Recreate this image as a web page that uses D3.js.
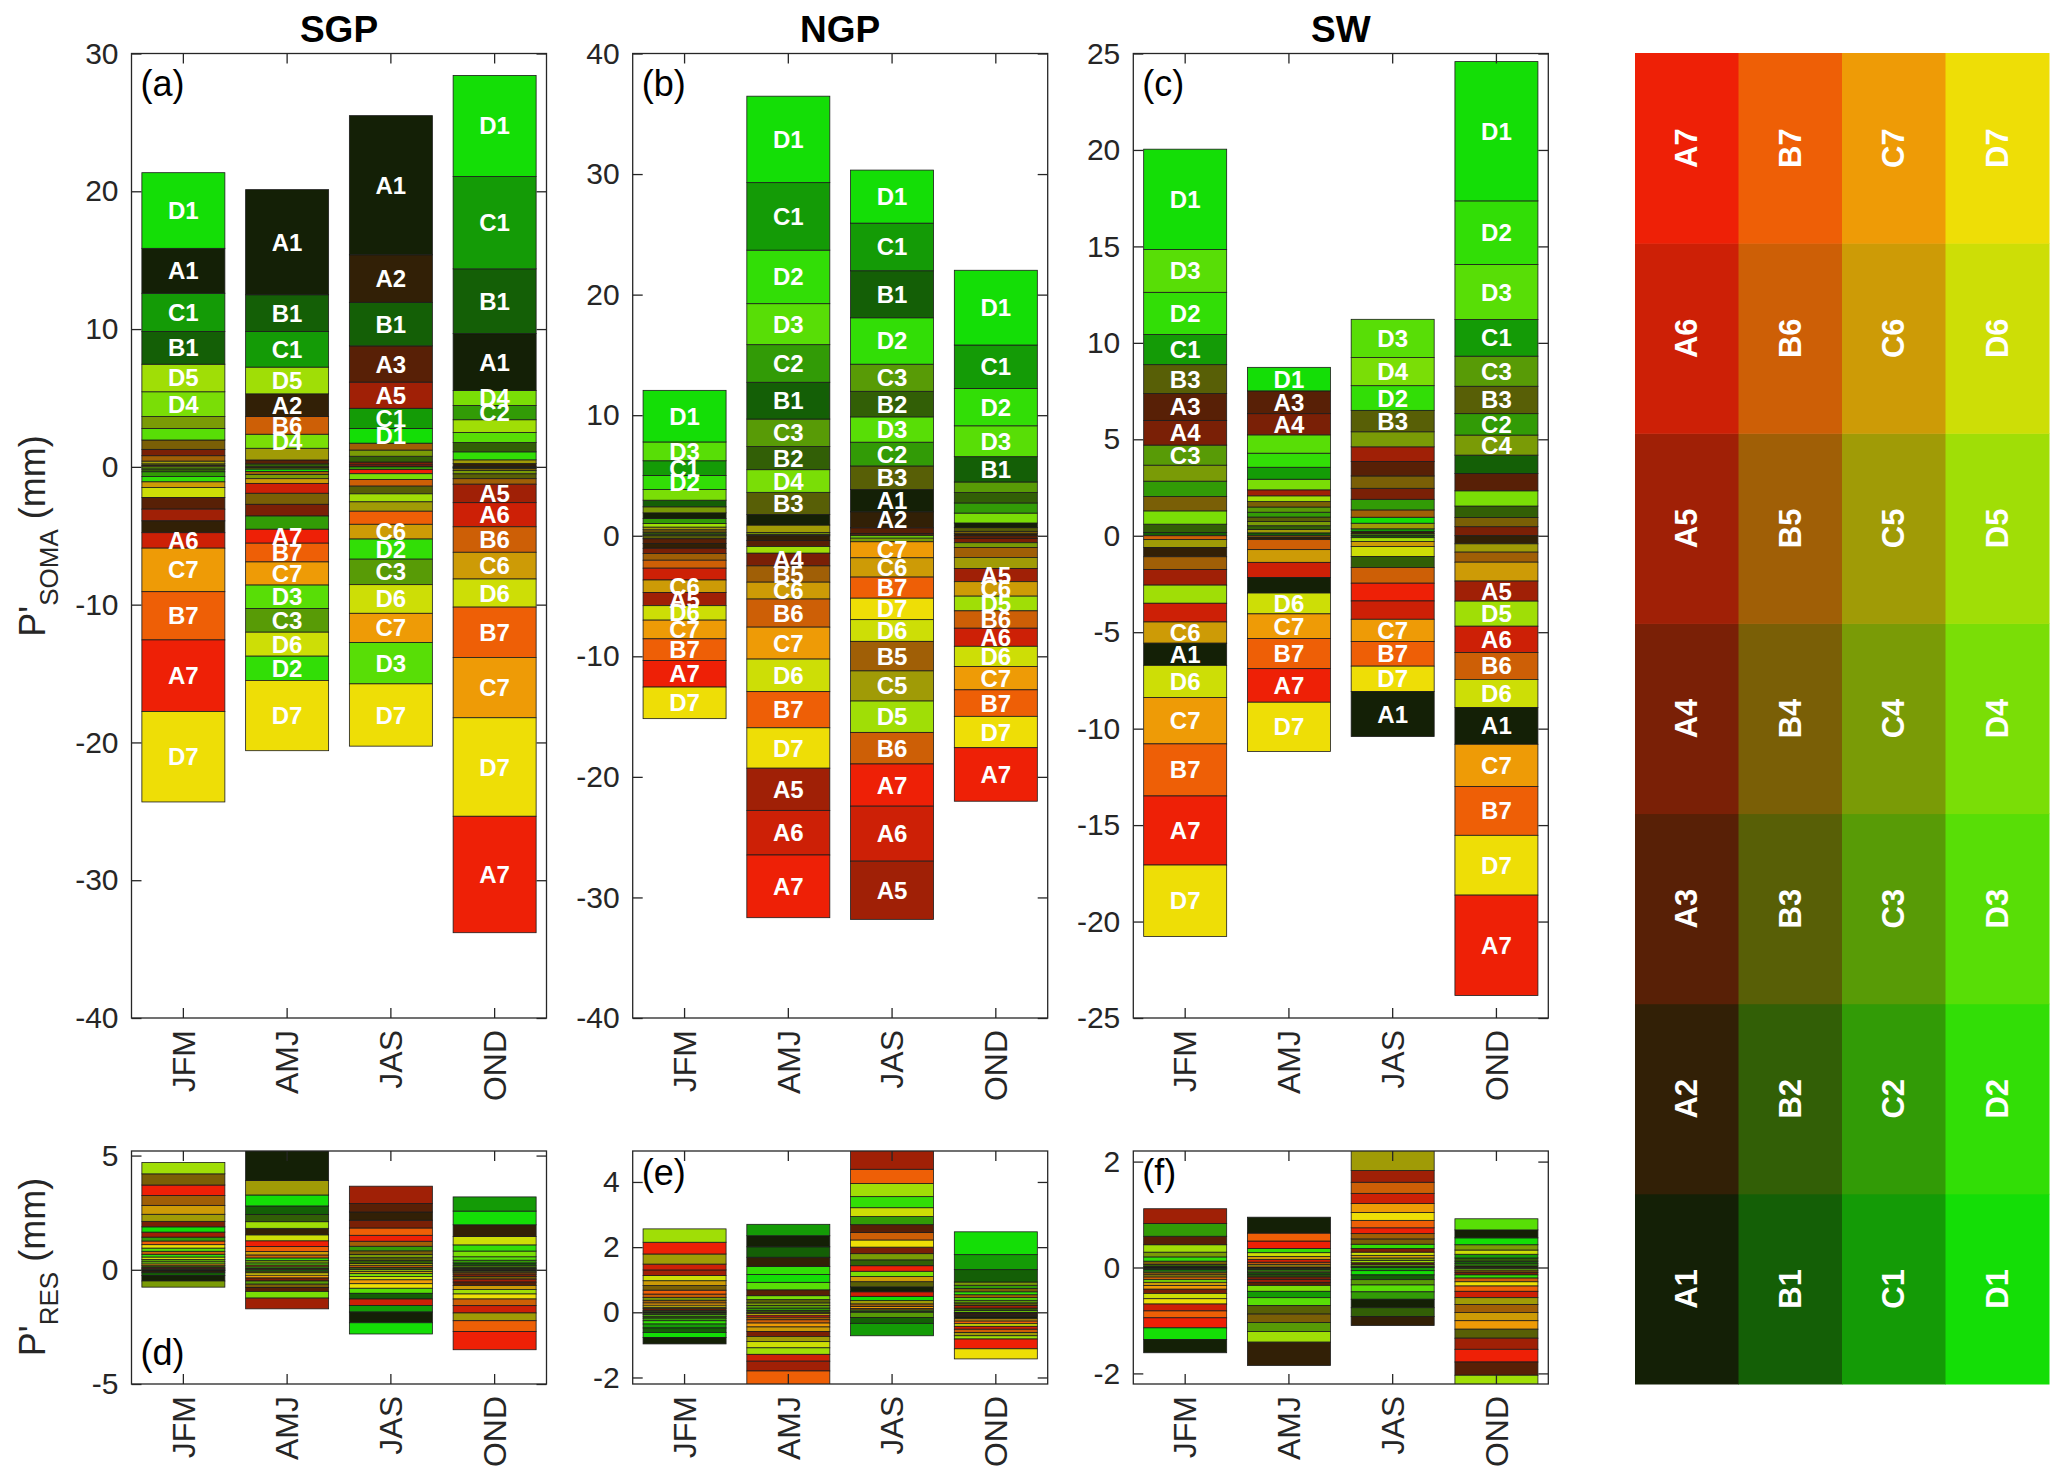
<!DOCTYPE html>
<html>
<head>
<meta charset="utf-8">
<script src="https://cdn.jsdelivr.net/npm/d3@7"></script>
<style>
  body { margin: 0; background: #fff; }
  svg text { font-family: "Liberation Sans", Arial, Helvetica, sans-serif; }
</style>
</head>
<body>
<div id="chart"></div>
<script>
// ---- data ----
const seasons = ["JFM", "AMJ", "JAS", "OND"];
const groups = ["A", "B", "C", "D"];
const levels = [1, 2, 3, 4, 5, 6, 7];
const categories = [
  "A1", "A2", "A3", "A4", "A5", "A6", "A7",
  "B1", "B2", "B3", "B4", "B5", "B6", "B7",
  "C1", "C2", "C3", "C4", "C5", "C6", "C7",
  "D1", "D2", "D3", "D4", "D5", "D6", "D7"
];

// P'SOMA (mm): one row per season, columns A1..A7 | B1..B7 | C1..C7 | D1..D7
const sgpSoma = [
  [3.26, -0.86, -0.84, 0.46, -0.85, -1.12, -5.2,   2.38, -0.2, 0.12, 0.68, 0.39, 0.1, -3.5,     2.77, -0.34, -0.16, 0.86, 0.2, -0.41, -3.16,   5.49, -0.39, 0.84, 1.8, 2.0, -0.73, -6.56],
  [7.63, 1.65, 0.28, -0.85, -0.05, -0.72, -1.01,   2.67, 0.22, -0.12, -0.8, -0.22, 1.28, -1.36,  2.58, -0.96, -1.72, -0.3, 0.85, -0.34, -1.68,  -0.17, -1.76, -1.7, 1.02, 1.94, -1.74, -5.1],
  [10.1, 3.45, 2.63, 0.2, 1.9, 0.1, -0.3,          3.16, 0.42, -0.56, 0.05, 0.5, -0.48, -0.95,   1.46, -0.2, -1.85, 0.45, -0.68, -1.07, -2.12,  1.07, -1.46, -3.0, -0.42, -0.58, -2.08, -4.52],
  [4.13, 0.24, -0.03, -0.02, -1.34, -1.75, -8.45,  4.7, 0.68, -0.35, -0.15, -0.4, -1.85, -3.65,  6.7, 1.04, -0.06, -0.25, 0.27, -1.94, -4.38,   7.34, 0.58, 0.73, 1.08, 0.92, -2.04, -7.15]
];
const ngpSoma = [
  [0.47, -0.4, -0.39, -0.44, -1.1, -0.98, -2.2,    0.55, 0.17, -0.25, 0.2, -0.55, -0.66, -1.8,   1.22, 0.41, 0.13, 0.5, 0.22, -1.03, -1.55,     4.28, 1.17, 1.56, 0.88, 0.3, -1.2, -2.62],
  [0.88, -0.4, -0.5, -1.05, -3.5, -3.7, -5.2,      3.05, 1.92, 1.83, 0.12, -1.35, -2.33, -3.0,   5.6, 3.12, 2.28, 0.15, 0.62, -1.4, -2.65,      7.17, 4.44, 3.4, 1.88, -0.55, -2.7, -3.35],
  [1.85, 1.33, 0.47, 0.12, -4.83, -4.56, -3.5,     3.9, 2.12, 1.95, 0.07, -2.45, -2.62, -1.75,   3.95, 1.97, 2.25, -0.3, -2.5, -1.6, -1.33,     4.4, 3.85, 2.1, -0.2, -2.6, -1.8, -1.78],
  [0.39, 0.17, -0.22, -0.36, -1.1, -1.5, -4.44,    2.1, 0.86, 0.3, 0.2, -0.83, -1.44, -2.2,      3.6, 0.84, 0.88, -0.39, -0.91, -1.2, -1.94,    6.2, 3.1, 2.56, 0.82, -1.22, -1.67, -2.6]
];
const swSoma = [
  [-1.15, -0.48, 1.39, 1.28, -0.81, -0.97, -3.58,  0.17, 0.43, 1.5, 0.74, -0.66, -0.2, -2.7,     1.56, 0.8, 1.04, 0.83, -0.41, -1.1, -2.4,      5.2, 2.19, 2.22, 0.69, -0.94, -1.67, -3.7],
  [-0.81, -0.12, 1.18, 1.1, 0.31, -0.78, -1.74,    0.15, 0.2, 0.23, 0.28, -0.08, -0.52, -1.56,   0.62, 0.25, 0.27, 0.22, 0.17, -0.66, -1.28,    1.22, 0.73, 0.95, 0.55, 0.3, -1.08, -2.55],
  [-2.33, 0.12, 0.75, 0.57, 0.76, -0.95, -0.92,    -0.1, -0.57, 1.11, 0.64, 0.38, -0.81, -1.28,  0.14, 0.55, 0.1, 0.78, 0.29, -0.26, -1.15,     0.31, 1.28, 1.98, 1.46, -0.2, -0.52, -1.32],
  [-1.9, -0.42, 0.9, 0.47, -1.04, -1.36, -5.2,     0.95, 0.59, 1.42, 0.48, -0.52, -1.4, -2.53,   1.9, 1.11, 1.56, 1.04, -0.43, -0.98, -2.19,    7.22, 3.3, 2.85, 0.79, -1.3, -1.46, -3.1]
];

// P'RES (mm), same layout
const sgpRes = [
  [-0.24, -0.08, -0.03, 0.24, 0.22, 0.06, 0.46,    -0.12, 0.07, 0.05, 0.49, 0.43, 0.13, 0.16,    -0.02, 0.17, 0.1, -0.27, 0.31, 0.39, 0.08,     0.23, 0.12, 0.14, 0.09, 0.5, 0.11, 0.15],
  [1.5, 0.285, -0.17, -0.13, -0.47, 0.06, 0.25,    0.37, 0.32, -0.08, -0.15, 0.08, 0.13, 0.22,   -0.06, 0.07, -0.14, 0.1, 0.63, 0.15, -0.12,    0.48, 0.12, 0.09, -0.29, 0.29, 0.26, -0.1],
  [-0.47, 0.36, 0.37, 0.34, 0.76, -0.28, 0.26,     -0.25, 0.12, 0.13, 0.16, 0.22, 0.08, 0.32,    -0.29, 0.2, 0.06, 0.14, 0.1, -0.1, -0.17,      -0.49, 0.04, -0.22, -0.12, -0.07, -0.15, -0.2],
  [0.05, 0.51, -0.15, -0.1, -0.13, -0.32, -0.8,    0.1, 0.07, -0.04, -0.12, -0.08, -0.29, -0.47, 0.62, 0.12, 0.08, -0.05, -0.34, -0.17, -0.02,  0.6, 0.27, 0.15, 0.25, -0.2, 0.37, -0.22]
];
const ngpRes = [
  [-0.2, -0.03, 0.02, 0.05, 0.17, 0.18, 0.36,      -0.14, -0.06, 0.05, 0.14, 0.08, 0.1, 0.12,    -0.12, -0.08, -0.04, 0.09, 0.31, 0.15, 0.07,   -0.15, -0.1, -0.05, 0.04, 0.41, 0.16, 0.06],
  [0.34, 0.28, 0.18, -0.15, -0.3, -0.21, -0.06,    0.32, 0.06, 0.1, -0.04, -0.08, -0.1, -0.6,    0.35, 0.07, 0.08, 0.08, -0.16, -0.14, -0.12,   0.24, 0.25, 0.23, 0.12, -0.2, -0.19, -0.05],
  [0.15, 0.03, 0.24, 0.2, 0.65, 0.14, 0.17,        -0.18, 0.18, 0.16, 0.05, 0.08, 0.23, 0.44,    -0.38, 0.25, -0.16, 0.19, 0.1, 0.16, 0.06,     0.13, 0.34, 0.04, 0.16, 0.4, 0.27, 0.22],
  [-0.06, -0.05, -0.04, -0.03, 0.08, -0.09, -0.3,  0.38, 0.07, 0.08, 0.1, 0.09, -0.1, -0.08,     0.46, 0.1, 0.08, 0.1, -0.1, -0.07, -0.02,      0.7, 0.09, 0.08, 0.06, -0.1, -0.08, -0.31]
];
const swRes = [
  [-0.25, 0.02, 0.16, -0.08, 0.28, -0.13, -0.19,   -0.01, 0.04, -0.01, 0.06, -0.04, -0.05, -0.13, -0.03, 0.24, -0.02, 0.09, -0.04, -0.06, -0.07, -0.22, 0.08, -0.03, -0.05, 0.14, -0.1, -0.1],
  [0.3, -0.44, -0.06, -0.05, -0.05, 0.05, 0.14,    -0.04, -0.04, -0.16, -0.16, -0.01, 0.04, 0.15, -0.12, -0.03, -0.17, -0.03, -0.02, 0.06, 0.03, -0.01, 0.08, -0.15, -0.11, -0.2, 0.07, 0.03],
  [-0.16, -0.17, 0.04, 0.07, 0.22, 0.19, 0.11,     -0.09, -0.165, 0.02, 0.1, 0.1, 0.21, 0.14,    -0.06, -0.14, -0.1, 0.05, 0.4, 0.05, 0.17,     -0.08, 0.08, -0.13, 0.03, 0.04, 0.06, 0.15],
  [0.15, 0.03, -0.25, -0.05, -0.21, -0.12, -0.24,  0.05, 0.06, -0.17, -0.04, -0.15, -0.07, -0.1, 0.07, 0.04, -0.02, 0.1, -0.13, -0.155, -0.16, 0.13, -0.06, 0.21, -0.03, -0.32, 0.08, -0.08]
];

// class colours: red channel follows the level (1..7), green follows the group (A..D)
const levelRed = [20, 50, 88, 122, 160, 205, 238];
const groupGreen = [32, 95, 155, 222];

function classColor(name) {
  const g = groups.indexOf(name[0]);
  const l = +name.slice(1) - 1;
  return d3.rgb(levelRed[l], groupGreen[g], 6).formatHex();
}

const svg = d3.select("#chart").append("svg")
  .attr("width", 2067)
  .attr("height", 1479);

svg.append("rect").attr("width", 2067).attr("height", 1479).attr("fill", "#fff");

class StackedPanel {
  /**
   * One stacked-bar axes: positives stacked up from 0, negatives down,
   * smallest contributions closest to zero.
   */
  constructor(_config, _data) {
    this.config = {
      id: _config.id,
      left: _config.left,
      top: _config.top,
      width: _config.width || 415,
      height: _config.height,
      yDomain: _config.yDomain,
      yTicks: _config.yTicks,
      title: _config.title,
      panelLabel: _config.panelLabel,
      labelAtBottom: _config.labelAtBottom || false,
      labelBaseline: _config.labelBaseline,
      showNames: _config.showNames || false
    };
    this.data = _data;
    this.initVis();
  }

  initVis() {
    let vis = this;
    const c = vis.config;

    vis.g = svg.append("g").attr("transform", `translate(${c.left},${c.top})`);

    vis.x = d3.scaleBand().domain(seasons).range([0, c.width])
      .paddingInner(0.2).paddingOuter(0.1);
    vis.y = d3.scaleLinear().domain(c.yDomain).range([c.height, 0]);

    vis.g.append("clipPath").attr("id", "clip-" + c.id)
      .append("rect").attr("width", c.width).attr("height", c.height);

    vis.chart = vis.g.append("g").attr("clip-path", `url(#clip-${c.id})`);

    vis.updateVis();
  }

  updateVis() {
    let vis = this;
    vis.segments = vis.data.map((row, i) => {
      const items = row.map((v, j) => ({ name: categories[j], value: v, season: seasons[i] }));
      const pos = items.filter(d => d.value > 0).sort((a, b) => a.value - b.value);
      const neg = items.filter(d => d.value < 0).sort((a, b) => b.value - a.value);
      let acc = 0;
      pos.forEach(d => { d.y0 = acc; acc += d.value; d.y1 = acc; });
      acc = 0;
      neg.forEach(d => { d.y0 = acc; acc += d.value; d.y1 = acc; });
      return pos.concat(neg);
    }).flat();
    vis.renderVis();
  }

  renderVis() {
    let vis = this;
    const c = vis.config;

    vis.chart.selectAll("rect.seg")
      .data(vis.segments)
      .join("rect")
      .attr("class", "seg")
      .attr("x", d => vis.x(d.season))
      .attr("width", vis.x.bandwidth())
      .attr("y", d => vis.y(Math.max(d.y0, d.y1)))
      .attr("height", d => Math.abs(vis.y(d.y0) - vis.y(d.y1)))
      .attr("fill", d => classColor(d.name))
      .attr("stroke", "#1c1c1c")
      .attr("stroke-width", 0.8);

    if (c.showNames) {
      vis.chart.selectAll("text.seg-name")
        .data(vis.segments.filter(d => Math.abs(d.value) >= 1))
        .join("text")
        .attr("class", "seg-name")
        .attr("x", d => vis.x(d.season) + vis.x.bandwidth() / 2)
        .attr("y", d => vis.y((d.y0 + d.y1) / 2))
        .attr("text-anchor", "middle")
        .attr("dominant-baseline", "central")
        .attr("font-size", 24)
        .attr("font-weight", "bold")
        .attr("fill", "#fff")
        .text(d => d.name);
    }

    // axes, MATLAB style: ticks inside on all four sides
    const fmt = d => String(d);
    const left = vis.g.append("g")
      .call(d3.axisLeft(vis.y).tickValues(c.yTicks).tickFormat(fmt).tickSizeInner(-10).tickSizeOuter(0).tickPadding(13));
    vis.g.append("g").attr("transform", `translate(${c.width},0)`)
      .call(d3.axisRight(vis.y).tickValues(c.yTicks).tickFormat("").tickSizeInner(-10).tickSizeOuter(0));
    const bottom = vis.g.append("g").attr("transform", `translate(0,${c.height})`)
      .call(d3.axisBottom(vis.x).tickSizeInner(-10).tickSizeOuter(0));
    vis.g.append("g")
      .call(d3.axisTop(vis.x).tickFormat("").tickSizeInner(-10).tickSizeOuter(0));

    vis.g.selectAll(".domain").remove();
    vis.g.selectAll(".tick line").attr("stroke", "#262626").attr("stroke-width", 1.3);
    left.selectAll("text").attr("font-size", 30).attr("fill", "#262626").attr("font-family", null);
    bottom.selectAll("text")
      .attr("transform", "rotate(-90)")
      .attr("x", -12).attr("y", 0).attr("dy", "0.35em")
      .attr("text-anchor", "end")
      .attr("font-size", 32).attr("fill", "#262626").attr("font-family", null);

    vis.g.append("rect")
      .attr("width", c.width).attr("height", c.height)
      .attr("fill", "none").attr("stroke", "#262626").attr("stroke-width", 1.3);

    if (c.title) {
      vis.g.append("text")
        .attr("x", c.width / 2).attr("y", -12)
        .attr("text-anchor", "middle")
        .attr("font-size", 37).attr("font-weight", "bold").attr("fill", "#000")
        .text(c.title);
    }

    vis.g.append("text")
      .attr("x", 9).attr("y", c.labelBaseline)
      .attr("font-size", 36).attr("fill", "#000")
      .text(c.panelLabel);
  }
}

const panelLefts = [131.5, 632.7, 1133.3];
const topY = 53.5, topH = 964.5;
const botY = 1151, botH = 233;

new StackedPanel({ id: "a", left: panelLefts[0], top: topY, height: topH, yDomain: [-40, 30],
  yTicks: d3.range(-40, 31, 10), title: "SGP", panelLabel: "(a)", labelBaseline: 42, showNames: true }, sgpSoma);
new StackedPanel({ id: "b", left: panelLefts[1], top: topY, height: topH, yDomain: [-40, 40],
  yTicks: d3.range(-40, 41, 10), title: "NGP", panelLabel: "(b)", labelBaseline: 42, showNames: true }, ngpSoma);
new StackedPanel({ id: "c", left: panelLefts[2], top: topY, height: topH, yDomain: [-25, 25],
  yTicks: d3.range(-25, 26, 5), title: "SW", panelLabel: "(c)", labelBaseline: 42, showNames: true }, swSoma);

new StackedPanel({ id: "d", left: panelLefts[0], top: botY, height: botH, yDomain: [-5, 5.2],
  yTicks: [-5, 0, 5], panelLabel: "(d)", labelBaseline: 214 }, sgpRes);
new StackedPanel({ id: "e", left: panelLefts[1], top: botY, height: botH, yDomain: [-2.2, 4.95],
  yTicks: [-2, 0, 2, 4], panelLabel: "(e)", labelBaseline: 34 }, ngpRes);
new StackedPanel({ id: "f", left: panelLefts[2], top: botY, height: botH, yDomain: [-2.2, 2.2],
  yTicks: [-2, 0, 2], panelLabel: "(f)", labelBaseline: 34 }, swRes);

// y-axis titles
function yTitle(cx, cy, sub) {
  const t = svg.append("text")
    .attr("transform", `translate(${cx},${cy}) rotate(-90)`)
    .attr("text-anchor", "middle")
    .attr("font-size", 36).attr("fill", "#262626");
  t.append("tspan").text("P'");
  t.append("tspan").attr("font-size", 26).attr("dy", 13).text(sub);
  t.append("tspan").attr("dy", -13).text(" (mm)");
}
yTitle(45, 536, "SOMA");
yTitle(45, 1267, "RES");

// colour key
const key = svg.append("g").attr("transform", "translate(1635,53)");
const kx = d3.scaleBand().domain(groups).range([0, 414]);
const ky = d3.scaleBand().domain(levels.slice().reverse()).range([0, 1331]);

key.selectAll("rect")
  .data(categories)
  .join("rect")
  .attr("x", d => kx(d[0]))
  .attr("y", d => ky(+d.slice(1)))
  .attr("width", kx.bandwidth() + 0.5)
  .attr("height", ky.bandwidth() + 0.5)
  .attr("fill", d => classColor(d));

key.selectAll("text")
  .data(categories)
  .join("text")
  .attr("transform", d => `translate(${kx(d[0]) + kx.bandwidth() / 2},${ky(+d.slice(1)) + ky.bandwidth() / 2}) rotate(-90)`)
  .attr("text-anchor", "middle")
  .attr("dominant-baseline", "central")
  .attr("font-size", 31)
  .attr("font-weight", "bold")
  .attr("fill", "#fff")
  .text(d => d);
</script>
</body>
</html>
